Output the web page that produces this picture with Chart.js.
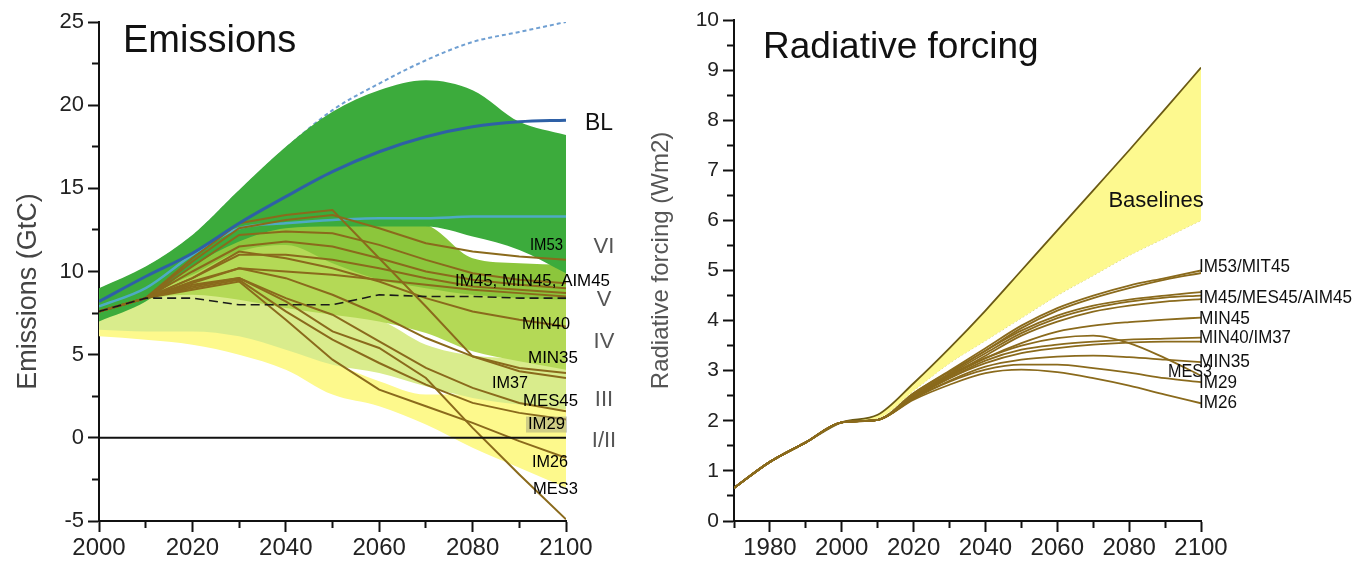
<!DOCTYPE html>
<html>
<head>
<meta charset="utf-8">
<title>Emissions and radiative forcing</title>
<script src="https://cdn.jsdelivr.net/npm/chart.js@4.4.1/dist/chart.umd.min.js"></script>
<style>
  html, body { margin: 0; padding: 0; background: #fff; }
  #wrap { position: relative; width: 1353px; height: 561px; overflow: hidden; }
  #emis { position: absolute; left: 0; top: 0; }
  #forc { position: absolute; left: 640px; top: 0; }
</style>
</head>
<body>
<div id="wrap">
  <canvas id="emis" width="640" height="561"></canvas>
  <canvas id="forc" width="713" height="561"></canvas>
</div>
<script>
// ---------- Emissions panel (GtC) ----------
const emisYears = [2000, 2010, 2020, 2030, 2040, 2050, 2060, 2070, 2080, 2090, 2100];

// baseline range
const blHigh    = [8.9, 10.2, 12.1, 14.8, 17.4, 19.7, 21.3, 22.7, 23.8, 24.4, 25.0];
const blCentral = [8.2, 9.7, 11.1, 12.9, 14.5, 16.0, 17.2, 18.1, 18.7, 19.0, 19.1];
const blLow     = [7.9, 9.0, 11.0, 12.6, 12.9, 13.1, 13.2, 13.2, 13.3, 13.3, 13.3];

// category bands (upper / lower edge)
const catVIHigh  = [9.0, 10.3, 12.2, 14.9, 17.5, 19.6, 20.9, 21.5, 20.9, 19.0, 18.2];
const catVILow   = [7.0, 8.2, 10.3, 11.8, 12.6, 12.7, 12.7, 12.7, 12.1, 11.3, 9.9];
const catVHigh   = [8.6, 9.6, 11.5, 12.8, 13.0, 13.0, 13.0, 12.8, 10.8, 10.5, 10.4];
const catVLow    = [7.3, 8.6, 9.8, 11.2, 11.6, 10.5, 9.5, 9.0, 8.6, 8.4, 8.3];
const catIVHigh  = [8.4, 9.4, 11.0, 12.0, 12.0, 11.5, 10.8, 10.2, 9.6, 9.2, 9.0];
const catIVLow   = [7.2, 8.3, 8.6, 8.3, 7.8, 7.4, 7.0, 6.3, 5.2, 4.6, 4.1];
const catIIIHigh = [8.3, 8.8, 9.0, 8.8, 8.3, 7.6, 7.1, 5.6, 4.95, 4.75, 4.5];
const catIIILow  = [6.5, 6.4, 6.4, 6.1, 5.3, 4.4, 3.9, 3.1, 2.4, 2.0, 1.7];
const catIHigh   = [7.0, 7.0, 6.8, 6.3, 5.5, 4.5, 3.4, 2.6, 2.6, 2.2, 2.0];
const catILow    = [6.1, 5.9, 5.6, 5.0, 4.1, 2.6, 1.9, 0.8, -0.6, -1.8, -3.0];

// stabilisation scenarios
const pathIM53  = [7.6, 8.4, 10.6, 12.6, 13.1, 13.4, 12.6, 11.7, 11.2, 10.9, 10.7];
const pathIM37  = [7.6, 8.4, 10.8, 12.9, 13.4, 13.7, 10.8, 7.9, 4.9, 4.0, 3.6];
const pathIM45  = [7.6, 8.4, 10.3, 12.2, 12.4, 12.3, 11.6, 10.7, 9.9, 9.5, 9.3];
const pathMIN45 = [7.6, 8.4, 10.0, 11.5, 11.8, 11.5, 10.8, 10.0, 9.5, 9.2, 9.0];
const pathAIM45 = [7.6, 8.4, 9.6, 11.0, 11.0, 10.7, 10.2, 9.6, 9.1, 8.9, 8.7];
const pathCatV  = [7.6, 8.4, 9.3, 10.2, 10.0, 9.8, 9.5, 9.2, 8.9, 8.7, 8.5];
const pathMIN40 = [7.6, 8.4, 9.6, 11.2, 10.8, 10.2, 9.4, 8.4, 7.6, 7.1, 6.7];
const pathMIN35 = [7.6, 8.4, 9.4, 10.2, 9.6, 8.6, 7.4, 6.0, 4.9, 4.2, 3.9];
const pathMES45 = [7.6, 8.4, 9.2, 9.6, 8.4, 7.4, 5.8, 4.2, 3.0, 2.1, 1.6];
const pathIM29  = [7.6, 8.4, 9.0, 9.5, 7.6, 5.9, 4.5, 3.2, 2.1, 1.5, 1.1];
const pathIM26  = [7.6, 8.4, 8.9, 9.4, 7.1, 4.7, 2.9, 1.9, 0.9, -0.2, -1.2];
const pathMES3  = [7.6, 8.4, 9.1, 9.6, 8.2, 6.4, 5.4, 3.6, 0.6, -2.2, -4.9];
const pathDash  = [7.6, 8.4, 8.4, 8.0, 8.0, 8.0, 8.6, 8.5, 8.5, 8.4, 8.4];

const zeroYears = [2000, 2100];
const zeroLevel = [0, 0];

const emisTags      = ['IM53', 'IM45, MIN45, AIM45', 'MIN40', 'MIN35', 'IM37', 'MES45', 'IM29', 'IM26', 'MES3'];
const emisTagValues = [11.6, 9.4, 6.8, 4.8, 3.3, 2.2, 0.8, -1.5, -3.1];
const catNames      = ['VI', 'V', 'IV', 'III', 'I/II'];
const catNameValues = [11.5, 8.3, 5.75, 2.3, -0.2];
const blLabelValue  = 18.9;

// ---------- Radiative forcing panel (W/m2) ----------
const forcYears   = [1970, 1980, 1990, 2000, 2010, 2020, 2030, 2040, 2050, 2060, 2070, 2080, 2090, 2100];
const forcHistory = [0.66, 1.18, 1.57, 1.97];

const baseHigh = [2.12, 2.75, 3.45, 4.2, 5.0, 5.8, 6.6, 7.4, 8.22, 9.05];
const baseLow  = [2.05, 2.6, 3.15, 3.6, 4.05, 4.5, 4.9, 5.3, 5.65, 6.0];

const fIM53  = [2.02, 2.55, 3.0, 3.45, 3.9, 4.25, 4.5, 4.7, 4.85, 5.0];
const fMIT45 = [2.02, 2.55, 2.98, 3.4, 3.85, 4.2, 4.45, 4.65, 4.82, 4.95];
const fIM45  = [2.02, 2.52, 2.95, 3.4, 3.8, 4.1, 4.3, 4.42, 4.5, 4.57];
const fMES45 = [2.02, 2.5, 2.93, 3.35, 3.75, 4.05, 4.25, 4.38, 4.46, 4.5];
const fAIM45 = [2.02, 2.5, 2.9, 3.3, 3.7, 3.98, 4.18, 4.3, 4.38, 4.43];
const fMIN45 = [2.02, 2.48, 2.88, 3.25, 3.55, 3.78, 3.9, 3.97, 4.02, 4.06];
const fMIN40 = [2.02, 2.47, 2.85, 3.2, 3.42, 3.52, 3.58, 3.62, 3.64, 3.66];
const fIM37  = [2.02, 2.46, 2.85, 3.15, 3.35, 3.45, 3.52, 3.56, 3.58, 3.58];
const fMIN35 = [2.02, 2.45, 2.8, 3.08, 3.22, 3.28, 3.3, 3.27, 3.22, 3.17];
const fMES3  = [2.02, 2.5, 2.92, 3.25, 3.5, 3.65, 3.7, 3.55, 3.25, 2.9];
const fIM29  = [2.02, 2.44, 2.78, 3.02, 3.12, 3.12, 3.05, 2.96, 2.85, 2.77];
const fIM26  = [2.02, 2.42, 2.72, 2.95, 3.02, 2.97, 2.85, 2.7, 2.52, 2.35];

const forcTags      = ['IM53/MIT45', 'IM45/MES45/AIM45', 'MIN45', 'MIN40/IM37', 'MIN35', 'IM29', 'IM26'];
const forcTagValues = [5.07, 4.46, 4.03, 3.65, 3.17, 2.75, 2.35];
const mes3TagValue  = 2.98;
const baselineTagValue = 6.38;

// ---------- look ----------
const FONT = '"Liberation Sans", Arial, Helvetica, sans-serif';
const INK = '#111';
const BROWN = '#8a6a1c';

Chart.defaults.font.family = FONT;
Chart.defaults.color = '#222';

function pts(xs, ys) {
  return ys.map((y, i) => ({ x: xs[i], y: y }));
}

function trace(data, color, width, order, extra) {
  return Object.assign({
    data: data, borderColor: color, borderWidth: width, pointRadius: 0,
    fill: false, order: order, tension: 0
  }, extra || {});
}

// a filled band needs two datasets: the hidden lower edge and the filled upper edge
function band(datasets, high, low, color, order) {
  const lowIndex = datasets.length;
  datasets.push(trace(pts(emisYears, low), 'transparent', 0, order, { cubicInterpolationMode: 'monotone' }));
  datasets.push(trace(pts(emisYears, high), 'transparent', 0, order, {
    cubicInterpolationMode: 'monotone', fill: lowIndex, backgroundColor: color
  }));
}

// axis helpers: long ticks for labelled values, short ones in between
function axisX(min, max, step) {
  const minor = c => c.tick && c.tick.value % 20 !== 0;
  return {
    type: 'linear', min: min, max: max,
    ticks: {
      stepSize: step, autoSkip: false, maxRotation: 0, padding: 2,
      font: { size: 24 }, color: '#222',
      callback: v => (v % 20 === 0 ? String(v) : '')
    },
    grid: {
      drawOnChartArea: false, drawTicks: true, tickLength: 11, tickWidth: 2, tickColor: INK,
      tickBorderDash: c => (minor(c) ? [6, 100] : [])
    },
    border: { display: true, color: INK, width: 2 },
    afterFit: s => { s.height = 40; }
  };
}

function axisY(min, max, step, major, size, width) {
  const minor = c => c.tick && Math.abs(c.tick.value % major) > 1e-9;
  return {
    min: min, max: max,
    ticks: {
      stepSize: step, autoSkip: false, padding: 4,
      font: { size: size }, color: '#222',
      callback: v => (Math.abs(v % major) < 1e-9 ? String(v) : '')
    },
    grid: {
      drawOnChartArea: false, drawTicks: true, tickLength: 11, tickWidth: 2, tickColor: INK,
      tickBorderDash: c => (minor(c) ? [6, 100] : []),
      tickBorderDashOffset: c => (minor(c) ? 102 : 0)
    },
    border: { display: true, color: INK, width: 2 },
    afterFit: s => { s.width = width; }
  };
}

function verticalTitle(ctx, text, x, y, size, color) {
  ctx.save();
  ctx.translate(x, y);
  ctx.rotate(-Math.PI / 2);
  ctx.font = size + 'px ' + FONT;
  ctx.fillStyle = color;
  ctx.textAlign = 'center';
  ctx.textBaseline = 'middle';
  ctx.fillText(text, 0, 0);
  ctx.restore();
}

// ---------- emissions chart ----------
const emisSets = [];
band(emisSets, catIHigh, catILow, '#fdf98c', 50);
band(emisSets, catIIIHigh, catIIILow, '#d9ec8c', 40);
band(emisSets, catIVHigh, catIVLow, '#b4d956', 30);
band(emisSets, catVHigh, catVLow, '#8cc63c', 20);
band(emisSets, catVIHigh, catVILow, '#3cab3c', 10);

// the dashed upper baseline sits behind the green, showing only where it rises above it
emisSets.push(trace(pts(emisYears, blHigh), '#6f9fd2', 2, 60, { cubicInterpolationMode: 'monotone', borderDash: [4, 3] }));
emisSets.push(trace(pts(emisYears, blLow), '#4eaac4', 2.5, 6, { cubicInterpolationMode: 'monotone' }));

[pathIM53, pathIM37, pathIM45, pathMIN45, pathAIM45, pathCatV, pathMIN40,
 pathMIN35, pathMES45, pathIM29, pathIM26, pathMES3].forEach(p => {
  emisSets.push(trace(pts(emisYears, p), BROWN, 2, 3));
});
emisSets.push(trace(pts(emisYears, pathDash), '#1a1a1a', 1.6, 2, { borderDash: [9, 5] }));
emisSets.push(trace(pts(emisYears, blCentral), '#2e60a6', 3, 1, { cubicInterpolationMode: 'monotone' }));
emisSets.push(trace(pts(zeroYears, zeroLevel), INK, 2, 0));

const emisText = {
  id: 'emisText',
  afterDraw(chart) {
    const { ctx, chartArea, scales } = chart;
    const x = scales.x, y = scales.y;
    const xEnd = x.getPixelForValue(2100);
    ctx.save();
    ctx.fillStyle = INK;
    ctx.font = '38px ' + FONT;
    ctx.textAlign = 'left';
    ctx.textBaseline = 'alphabetic';
    ctx.fillText('Emissions', chartArea.left + 24, chartArea.top + 30);

    verticalTitle(ctx, 'Emissions (GtC)', 29, y.getPixelForValue(8.8), 27, '#444');

    ctx.textBaseline = 'middle';
    ctx.font = '24px ' + FONT;
    ctx.fillStyle = INK;
    ctx.fillText('BL', xEnd + 19, y.getPixelForValue(blLabelValue), 28);

    ctx.font = '22px ' + FONT;
    ctx.fillStyle = '#555';
    ctx.textAlign = 'center';
    catNames.forEach((t, i) => ctx.fillText(t, xEnd + 38, y.getPixelForValue(catNameValues[i])));

    const shift = [-3, 44, 4, 12, -38, 12, -1, 2, 12];
    const width = [33, 155, 48, 50, 36, 55, 37, 36, 45];
    ctx.font = '17px ' + FONT;
    ctx.textAlign = 'right';
    emisTags.forEach((t, i) => {
      const px = xEnd + shift[i];
      const py = y.getPixelForValue(emisTagValues[i]);
      if (t === 'IM29') {
        ctx.fillStyle = 'rgba(150,150,125,0.45)';
        ctx.fillRect(px - width[i] - 2, py - 8, width[i] + 4, 16);
      }
      ctx.fillStyle = '#000';
      ctx.fillText(t, px, py, width[i]);
    });
    ctx.restore();
  }
};

new Chart(document.getElementById('emis'), {
  type: 'line',
  data: { datasets: emisSets },
  options: {
    responsive: false, animation: false, devicePixelRatio: 1,
    layout: { padding: { left: 0, top: 22, right: 74, bottom: 0 } },
    plugins: { legend: { display: false }, tooltip: { enabled: false } },
    scales: {
      x: axisX(2000, 2100, 10),
      y: axisY(-5, 25, 2.5, 5, 22, 99)
    }
  },
  plugins: [emisText]
});

// ---------- forcing chart ----------
const withHistory = s => forcHistory.concat(s);
const forcSets = [];
forcSets.push(trace(pts(forcYears, withHistory(baseLow)), '#d6cf78', 1, 6, {
  cubicInterpolationMode: 'monotone', borderDash: [2, 2]
}));
forcSets.push(trace(pts(forcYears, withHistory(baseHigh)), '#6b5a14', 1.8, 5, {
  cubicInterpolationMode: 'monotone', fill: 0, backgroundColor: '#fdf98f'
}));
[fIM53, fMIT45, fIM45, fMES45, fAIM45, fMIN45, fMIN40, fIM37, fMIN35, fMES3, fIM29, fIM26].forEach(s => {
  forcSets.push(trace(pts(forcYears, withHistory(s)), BROWN, 1.8, 3, { cubicInterpolationMode: 'monotone' }));
});

const forcText = {
  id: 'forcText',
  afterDraw(chart) {
    const { ctx, chartArea, scales } = chart;
    const x = scales.x, y = scales.y;
    const xEnd = x.getPixelForValue(2100);
    ctx.save();
    ctx.fillStyle = INK;
    ctx.font = '37px ' + FONT;
    ctx.textAlign = 'left';
    ctx.textBaseline = 'alphabetic';
    ctx.fillText('Radiative forcing', chartArea.left + 29, chartArea.top + 38);

    verticalTitle(ctx, 'Radiative forcing (Wm2)', 21, y.getPixelForValue(5.2), 24, '#555');

    ctx.textBaseline = 'middle';
    ctx.textAlign = 'center';
    ctx.font = '22px ' + FONT;
    ctx.fillStyle = '#111';
    ctx.fillText('Baselines', x.getPixelForValue(2087.5), y.getPixelForValue(baselineTagValue), 102);

    const width = [91, 153, 51, 92, 51, 38, 38];
    ctx.font = '18px ' + FONT;
    ctx.textAlign = 'left';
    forcTags.forEach((t, i) => {
      ctx.fillText(t, xEnd - 2, y.getPixelForValue(forcTagValues[i]), width[i]);
    });
    ctx.fillText('MES3', x.getPixelForValue(2090.8), y.getPixelForValue(mes3TagValue), 44);
    ctx.restore();
  }
};

new Chart(document.getElementById('forc'), {
  type: 'line',
  data: { datasets: forcSets },
  options: {
    responsive: false, animation: false, devicePixelRatio: 1,
    layout: { padding: { left: 0, top: 20, right: 152, bottom: 0 } },
    plugins: { legend: { display: false }, tooltip: { enabled: false } },
    scales: {
      x: axisX(1970, 2100, 10),
      y: axisY(0, 10, 0.5, 1, 21, 94)
    }
  },
  plugins: [forcText]
});
</script>
</body>
</html>
